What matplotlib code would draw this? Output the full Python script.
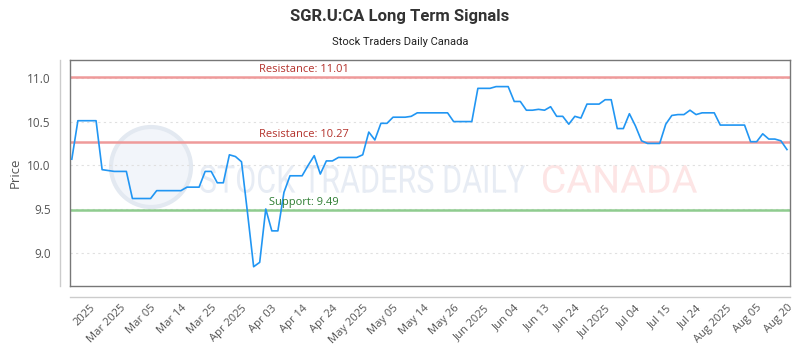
import matplotlib.pyplot as plt
import matplotlib.transforms as mtransforms
from matplotlib.patches import Ellipse, PathPatch
from matplotlib.textpath import TextPath
from matplotlib.font_manager import FontProperties

# price series (one value per trading session)
prices = [
    10.07, 10.51, 10.51, 10.51, 10.51, 9.95, 9.94, 9.93, 9.93, 9.93,
    9.62, 9.62, 9.62, 9.62, 9.71, 9.71, 9.71, 9.71, 9.71, 9.75,
    9.75, 9.75, 9.93, 9.93, 9.80, 9.80, 10.12, 10.10, 10.04, 9.45,
    8.84, 8.89, 9.50, 9.25, 9.25, 9.69, 9.88, 9.88, 9.88, 10.00,
    10.11, 9.90, 10.05, 10.05, 10.09, 10.09, 10.09, 10.09, 10.12, 10.38,
    10.29, 10.48, 10.48, 10.55, 10.55, 10.55, 10.56, 10.60, 10.60, 10.60,
    10.60, 10.60, 10.60, 10.50, 10.50, 10.50, 10.50, 10.88, 10.88, 10.88,
    10.90, 10.90, 10.90, 10.73, 10.73, 10.63, 10.63, 10.64, 10.63, 10.67,
    10.56, 10.56, 10.47, 10.56, 10.54, 10.70, 10.70, 10.70, 10.75, 10.75,
    10.42, 10.42, 10.59, 10.45, 10.28, 10.25, 10.25, 10.25, 10.47, 10.57,
    10.58, 10.58, 10.63, 10.58, 10.60, 10.60, 10.60, 10.46, 10.46, 10.46,
    10.46, 10.46, 10.27, 10.27, 10.36, 10.30, 10.30, 10.28, 10.18,
]

tick_labels = [
    "2025", "Mar 2025", "Mar 05", "Mar 14", "Mar 25", "Apr 2025", "Apr 03",
    "Apr 14", "Apr 24", "May 2025", "May 05", "May 14", "May 26", "Jun 2025",
    "Jun 04", "Jun 13", "Jun 24", "Jul 2025", "Jul 04", "Jul 15", "Jul 24",
    "Aug 2025", "Aug 05", "Aug 20",
]

resistance = [11.01, 10.27]
support = [9.49]

W, H = 800, 350
fig = plt.figure(figsize=(8, 3.5), dpi=100)
ax = fig.add_axes([0.0875, 0.183, 0.9, 0.647])


def watermark(text, box, color):
    # squeeze a text path into a pixel box (left, top, right, bottom)
    tp = TextPath((0, 0), text, size=10, prop=FontProperties(family="Roboto"))
    ext = tp.get_extents()
    l, t, r, b = box
    sx = (r - l) / W / ext.width
    sy = (b - t) / H / ext.height
    tr = (mtransforms.Affine2D().translate(-ext.x0, -ext.y0).scale(sx, sy)
          .translate(l / W, 1 - b / H) + fig.transFigure)
    ax.add_patch(PathPatch(tp, transform=tr, facecolor=color, edgecolor="none",
                           zorder=0.5, clip_on=False))


ax.add_patch(Ellipse((151 / W, 1 - 167 / H), 80 / W, 80 / H,
                     transform=fig.transFigure, facecolor="#f2f5fa",
                     edgecolor="#e3e9f1", lw=3, zorder=0.4, clip_on=False))
watermark("STOCK TRADERS DAILY", (200, 165, 525, 193), "#e7ecf4")
watermark("CANADA", (543, 165, 697, 193), "#fde5e5")

x = list(range(len(prices)))
ax.plot(x, prices, color="#2196f3", lw=1.2, zorder=3)

trans = mtransforms.blended_transform_factory(ax.transAxes, ax.transData)
for lvl in resistance:
    ax.axhline(lvl, color="#ef9a9a", lw=1.8, zorder=2)
    ax.annotate(f"Resistance: {lvl:.2f}", xy=(0.325, lvl), xycoords=trans,
                xytext=(0, 3.5), textcoords="offset points", ha="center",
                va="baseline", fontsize=8, color="#b3312b", family="Open Sans")
for lvl in support:
    ax.axhline(lvl, color="#8fcc8f", lw=1.8, zorder=2)
    ax.annotate(f"Support: {lvl:.2f}", xy=(0.325, lvl), xycoords=trans,
                xytext=(0, 3.5), textcoords="offset points", ha="center",
                va="baseline", fontsize=8, color="#2e7d32", family="Open Sans")

ax.set_xlim(-0.3, 118.5)
ax.set_ylim(8.62, 11.21)
ax.set_yticks([9.0, 9.5, 10.0, 10.5, 11.0])
ax.set_yticklabels(["9.0", "9.5", "10.0", "10.5", "11.0"])
ax.yaxis.grid(True, color="#e0e0e0", lw=0.8, ls=(0, (2, 3)))
ax.set_axisbelow(True)

ax.set_xticks(range(3, len(prices), 5))
ax.set_xticklabels(tick_labels, rotation=45, ha="right", rotation_mode="anchor")
ax.tick_params(axis="x", length=0, pad=12, labelsize=8, labelcolor="#555555")
ax.tick_params(axis="y", length=0, pad=14, labelsize=8.5, labelcolor="#555555")
for lab in ax.get_xticklabels() + ax.get_yticklabels():
    lab.set_family("Open Sans")

for sp in ax.spines.values():
    sp.set_color("#777777")
    sp.set_linewidth(1)

# outer light axis lines
ax.plot([-0.014, -0.014], [0, 1], transform=ax.transAxes, color="#cccccc",
        lw=1, clip_on=False)
ax.plot([0, 1], [-0.047, -0.047], transform=ax.transAxes, color="#cccccc",
        lw=1, clip_on=False)

ax.set_ylabel("Price", fontsize=9.5, color="#555555", family="Open Sans", labelpad=4)

fig.text(0.5, 1 - 16 / H, "SGR.U:CA Long Term Signals", ha="center", va="center",
         fontsize=12, fontweight="bold", color="#333333", family="Roboto")
fig.text(0.5, 1 - 42 / H, "Stock Traders Daily Canada", ha="center", va="center",
         fontsize=8, color="#222222", family="Roboto")

fig.savefig("out.png", dpi=100)
